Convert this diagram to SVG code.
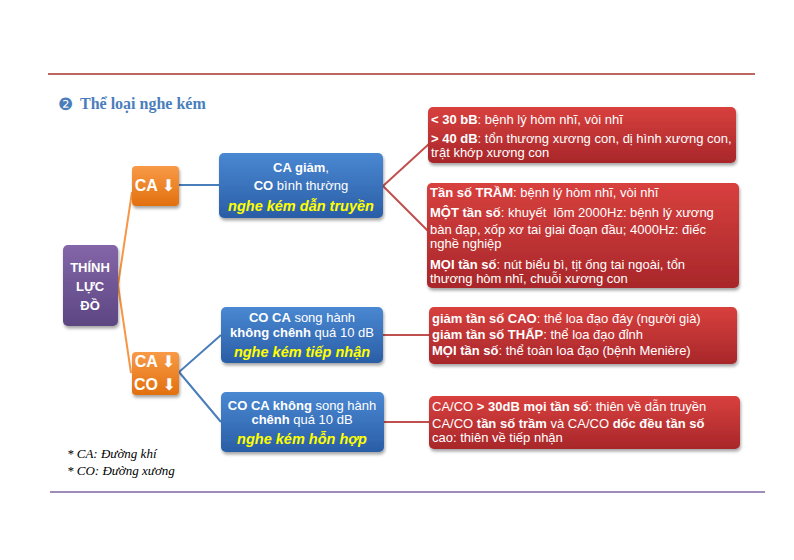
<svg xmlns="http://www.w3.org/2000/svg" width="794" height="560" viewBox="0 0 794 560">
<defs>
<linearGradient id="gRed" x1="0" y1="0" x2="0" y2="1"><stop offset="0" stop-color="#D8403E"/><stop offset="1" stop-color="#A8272A"/></linearGradient>
<linearGradient id="gBlue" x1="0" y1="0" x2="0" y2="1"><stop offset="0" stop-color="#4A88D2"/><stop offset="1" stop-color="#2A5EA6"/></linearGradient>
<linearGradient id="gOrange" x1="0" y1="0" x2="0" y2="1"><stop offset="0" stop-color="#F89A48"/><stop offset="1" stop-color="#E2700E"/></linearGradient>
<linearGradient id="gPurple" x1="0" y1="0" x2="0" y2="1"><stop offset="0" stop-color="#8466A8"/><stop offset="1" stop-color="#5C4682"/></linearGradient>
<filter id="sh" x="-10%" y="-10%" width="125%" height="135%"><feDropShadow dx="1" dy="2.5" stdDeviation="1.8" flood-color="#000" flood-opacity="0.35"/></filter>
</defs>
<style>
.t{font-family:"Liberation Sans",Arial,sans-serif;fill:#fff}
.rb{font-size:13px}
.bb{font-size:13px;text-anchor:middle}
.y{fill:#FFFF00;font-weight:bold;font-style:italic;font-size:14.5px}
.b{font-weight:bold}
.ar{font-family:"DejaVu Sans",sans-serif;font-weight:normal}
.c{fill:none;stroke-width:2}
</style>
<rect width="794" height="560" fill="#fff"/>
<line x1="48" y1="74" x2="755" y2="74" stroke="#A8352A" stroke-width="1.5"/>
<line x1="50" y1="492" x2="765" y2="492" stroke="#8064A2" stroke-width="1.5"/>
<g id="title">
<text x="58" y="110" font-family="DejaVu Sans,sans-serif" font-size="17" fill="#4A7EBB">❷</text>
<text x="80" y="109" font-family="Liberation Serif,serif" font-weight="bold" font-size="16" fill="#4A7EBB">Thể loại nghe kém</text>
</g>
<g id="connectors">
<polyline class="c" stroke="#F79646" points="132,192 118,285 131,373"/>
<line class="c" stroke="#4A7EBB" x1="179" y1="185" x2="219" y2="185"/>
<polyline class="c" stroke="#4A7EBB" points="221,335 179,372 221,422"/>
<polyline class="c" stroke="#C0504D" points="430,143 383,186 430,233"/>
<line class="c" stroke="#C0504D" x1="383" y1="335" x2="429" y2="335"/>
<line class="c" stroke="#C0504D" x1="384" y1="422" x2="429" y2="422"/>
</g>
<g id="n-thinhluc">
<rect x="63" y="245" width="55" height="81" rx="5" fill="url(#gPurple)" filter="url(#sh)"/>
<text class="t b" font-size="13" text-anchor="middle"><tspan x="90" y="272">THÍNH</tspan><tspan x="90" y="291">LỰC</tspan><tspan x="90" y="310">ĐỒ</tspan></text>
</g>
<g id="n-ca">
<rect x="132" y="166" width="47" height="40" rx="4" fill="url(#gOrange)" filter="url(#sh)"/>
<text class="t b" font-size="16" x="155" y="191" text-anchor="middle">CA <tspan class="ar">⬇</tspan></text>
</g>
<g id="n-caco">
<rect x="132" y="352" width="47" height="43" rx="4" fill="url(#gOrange)" filter="url(#sh)"/>
<text class="t b" font-size="16" text-anchor="middle"><tspan x="155" y="367">CA <tspan class="ar">⬇</tspan></tspan><tspan x="155" y="390">CO <tspan class="ar">⬇</tspan></tspan></text>
</g>
<g id="n-dantruyen">
<rect x="219" y="153" width="164" height="65" rx="5" fill="url(#gBlue)" filter="url(#sh)"/>
<text class="t bb" x="301" y="172"><tspan class="b">CA giảm</tspan>,</text>
<text class="t bb" x="301" y="190"><tspan class="b">CO</tspan> bình thường</text>
<text class="t bb y" x="301" y="211">nghe kém dẫn truyền</text>
</g>
<g id="n-tiepnhan">
<rect x="221" y="307" width="162" height="56" rx="5" fill="url(#gBlue)" filter="url(#sh)"/>
<text class="t bb" x="302" y="322"><tspan class="b">CO CA</tspan> song hành</text>
<text class="t bb" x="302" y="337"><tspan class="b">không chênh</tspan> quá 10 dB</text>
<text class="t bb y" x="302" y="357">nghe kém tiếp nhận</text>
</g>
<g id="n-honhop">
<rect x="221" y="392" width="163" height="60" rx="5" fill="url(#gBlue)" filter="url(#sh)"/>
<text class="t bb" x="302" y="410"><tspan class="b">CO CA không</tspan> song hành</text>
<text class="t bb" x="302" y="424"><tspan class="b">chênh</tspan> quá 10 dB</text>
<text class="t bb y" x="302" y="444">nghe kém hỗn hợp</text>
</g>
<g id="n-r1">
<rect x="428" y="107" width="308" height="56" rx="5" fill="url(#gRed)" filter="url(#sh)"/>
<text class="t rb" x="431" y="124"><tspan class="b">&lt; 30 bB</tspan>: bệnh lý hòm nhĩ, vòi nhĩ</text>
<text class="t rb" x="431" y="143"><tspan class="b">&gt; 40 dB</tspan>: tổn thương xương con, dị hình xương con,</text>
<text class="t rb" x="431" y="157">trật khớp xương con</text>
</g>
<g id="n-r2">
<rect x="427" y="183" width="312" height="105" rx="5" fill="url(#gRed)" filter="url(#sh)"/>
<text class="t rb" x="430" y="197"><tspan class="b">Tần số TRẦM</tspan>: bệnh lý hòm nhĩ, vòi nhĩ</text>
<text class="t rb" x="430" y="217"><tspan class="b">MỘT tần số</tspan>: khuyết&#160; lõm 2000Hz: bệnh lý xương</text>
<text class="t rb" x="430" y="234">bàn đạp, xốp xơ tai giai đoạn đầu; 4000Hz: điếc</text>
<text class="t rb" x="430" y="248">nghề nghiệp</text>
<text class="t rb" x="430" y="269"><tspan class="b">MỌI tần số</tspan>: nút biểu bì, tịt ống tai ngoài, tổn</text>
<text class="t rb" x="430" y="283">thương hòm nhĩ, chuỗi xương con</text>
</g>
<g id="n-r3">
<rect x="429" y="307" width="308" height="57" rx="5" fill="url(#gRed)" filter="url(#sh)"/>
<text class="t rb" x="432" y="323"><tspan class="b">giảm tần số CAO</tspan>: thể loa đạo đáy (người già)</text>
<text class="t rb" x="432" y="339"><tspan class="b">giảm tần số THẤP</tspan>: thể loa đạo đỉnh</text>
<text class="t rb" x="432" y="355"><tspan class="b">MỌI tần số</tspan>: thể toàn loa đạo (bệnh Menière)</text>
</g>
<g id="n-r4">
<rect x="429" y="396" width="311" height="53" rx="5" fill="url(#gRed)" filter="url(#sh)"/>
<text class="t rb" x="432" y="411">CA/CO <tspan class="b">&gt; 30dB mọi tần số</tspan>: thiên về dẫn truyền</text>
<text class="t rb" x="432" y="428">CA/CO <tspan class="b">tần số trầm</tspan> và CA/CO <tspan class="b">dốc đều tần số</tspan></text>
<text class="t rb" x="432" y="442">cao: thiên về tiếp nhận</text>
</g>
<g id="footnote" font-family="Liberation Serif,serif" font-style="italic" font-size="13" fill="#000">
<text x="67" y="458">* CA: Đường khí</text>
<text x="67" y="475">* CO: Đường xương</text>
</g>
</svg>
